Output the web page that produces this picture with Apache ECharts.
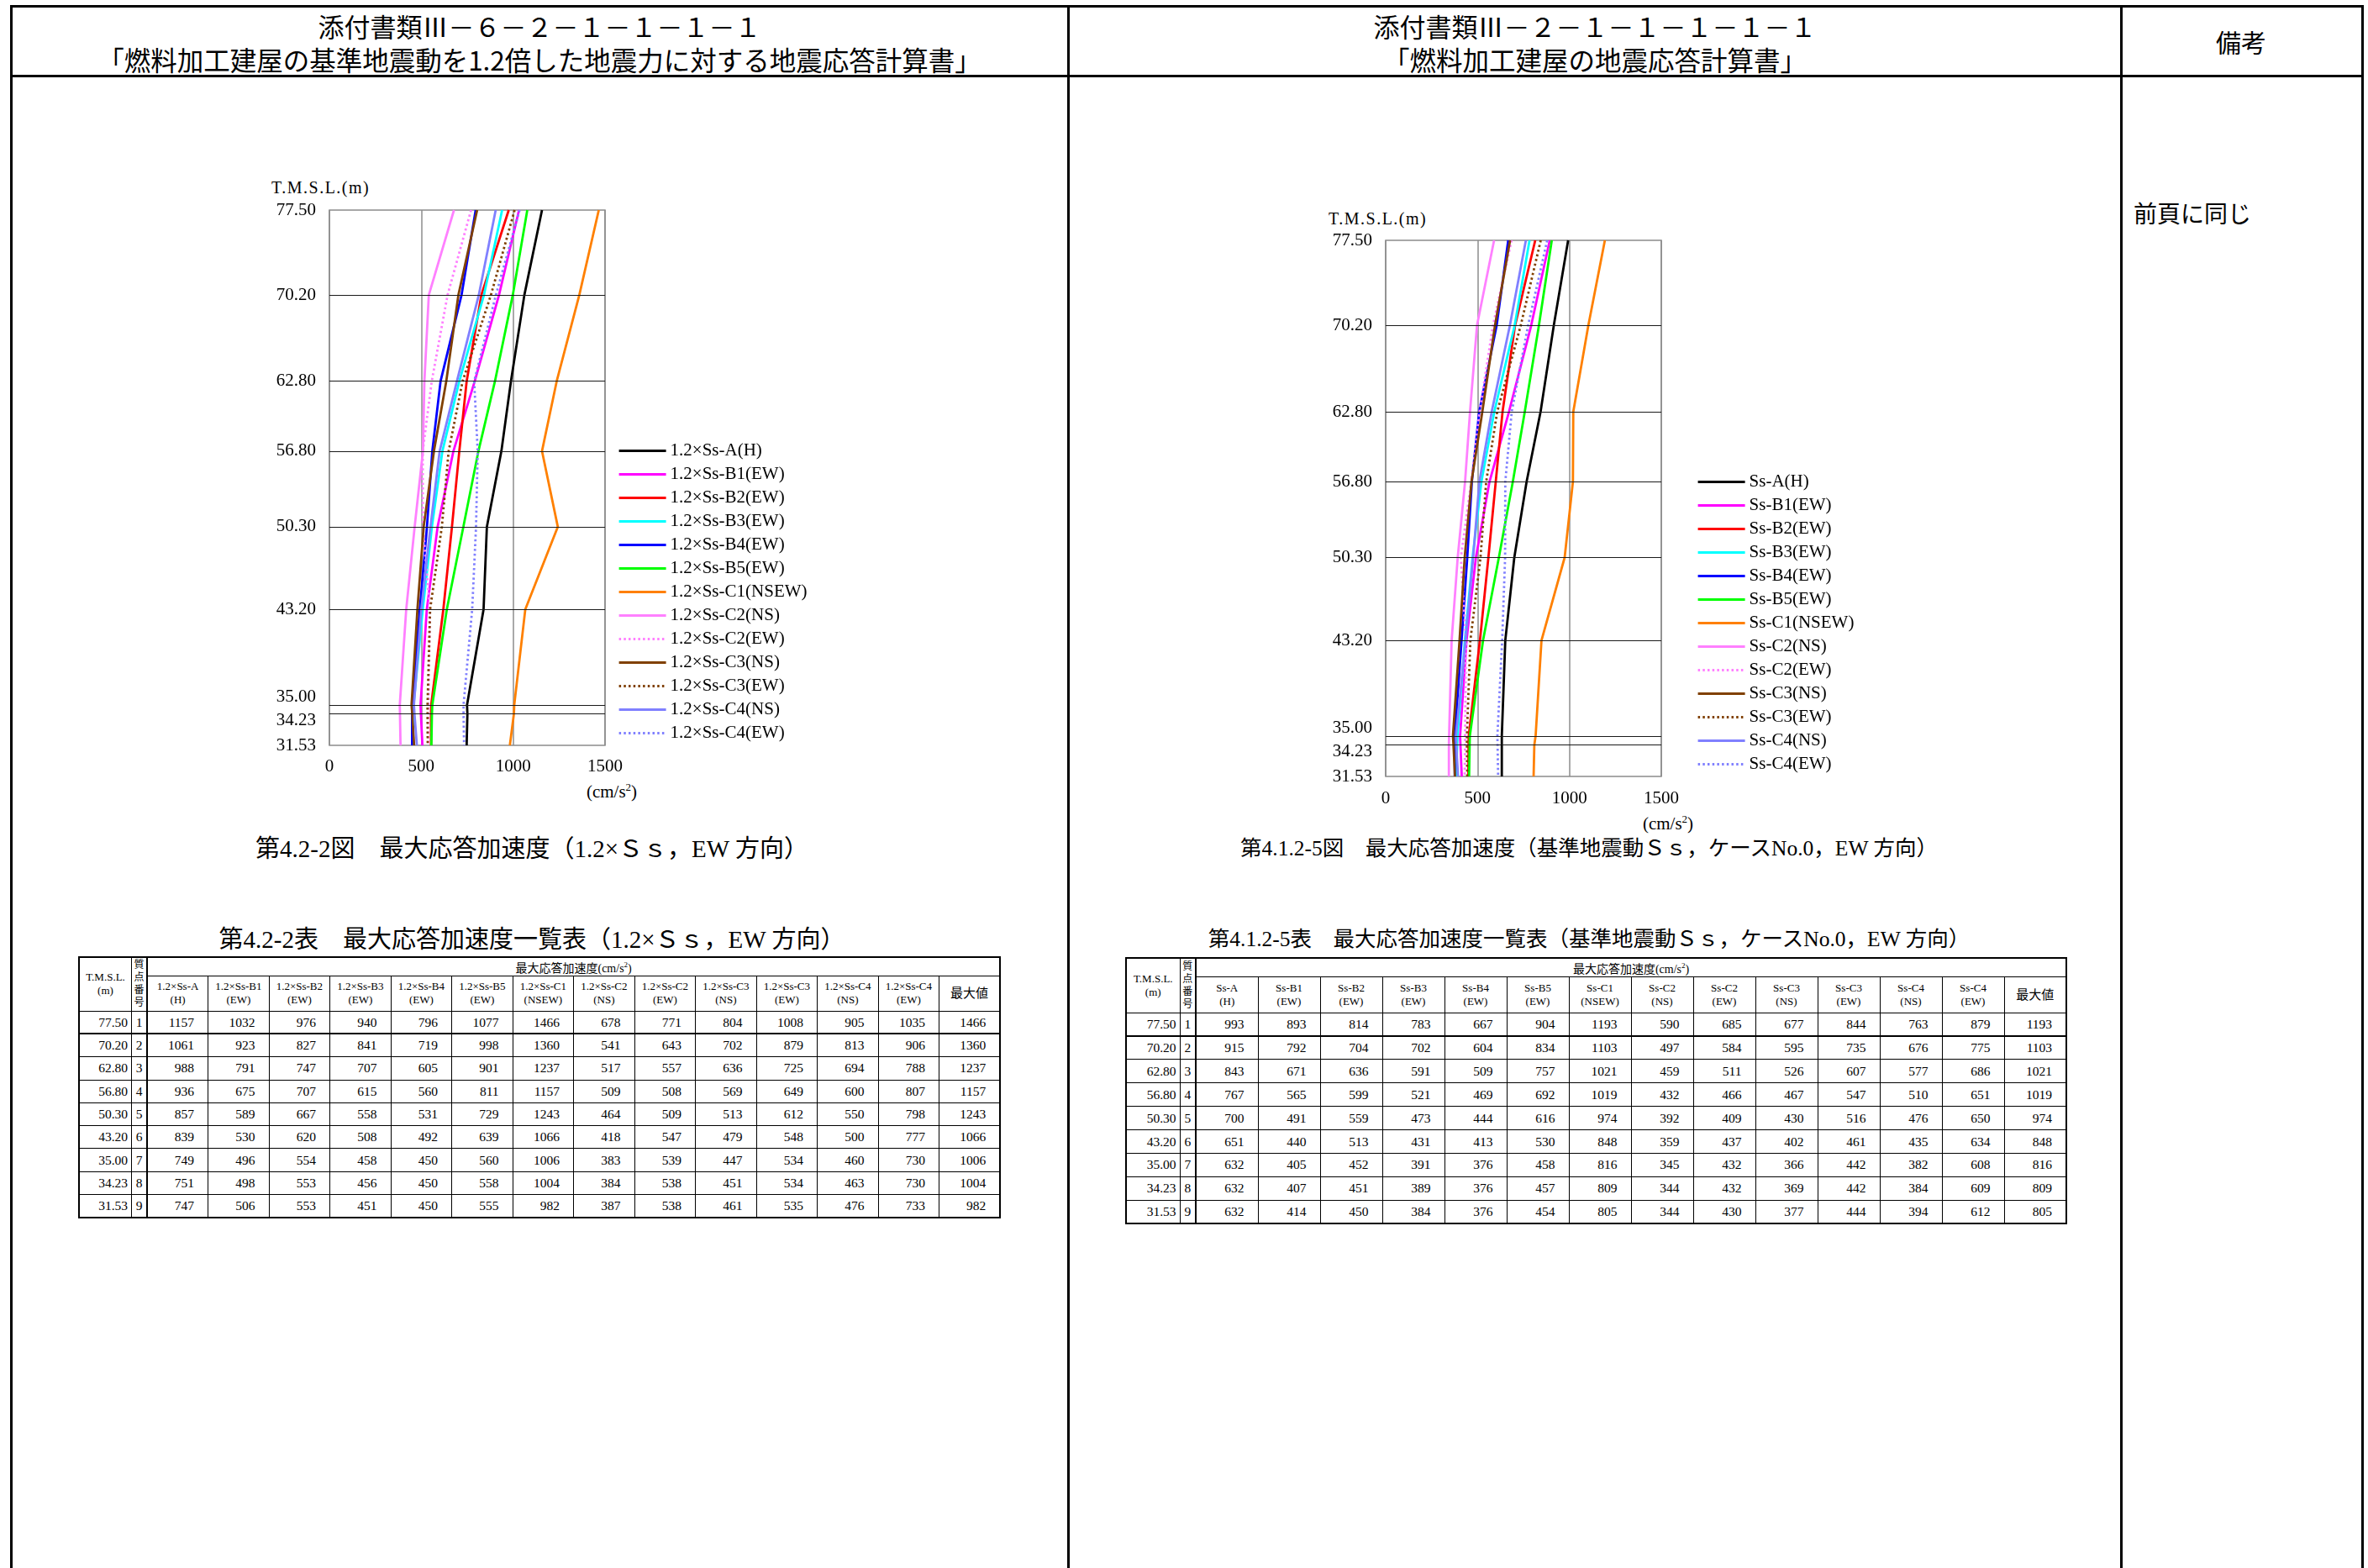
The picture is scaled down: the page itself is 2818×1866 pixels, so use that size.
<!DOCTYPE html>
<html>
<head>
<meta charset="utf-8">
<script src="https://cdn.jsdelivr.net/npm/echarts@6/dist/echarts.min.js"></script>
<style>
  html, body { margin:0; padding:0; background:#fff; }
  body { width:2818px; height:1866px; position:relative; overflow:hidden;
         font-family:"Liberation Serif","Noto Sans CJK JP",serif; color:#000; }
  .ln { position:absolute; background:#000; }
  .txt { position:absolute; white-space:nowrap; font-family:"Liberation Serif","Noto Sans CJK JP",serif; }
  .ctr { transform:translateX(-50%); text-align:center; }
  table.acc { position:absolute; border-collapse:collapse; table-layout:fixed; border:2px solid #000;
              font-family:"Liberation Serif","Noto Sans CJK JP",serif; }
  table.acc th, table.acc td { border:1px solid #000; padding:0; overflow:hidden; white-space:nowrap; }
  table.acc th { font-weight:normal; font-size:13px; line-height:16px; text-align:center; vertical-align:middle; }
  table.acc td { font-size:15.5px; }
  table.acc td.num { text-align:right; padding-right:16px; }
  table.acc td.el { text-align:right; padding-right:4px; border-right:1px solid #000; }
  table.acc td.no { text-align:center; border-right:2px solid #000; }
  table.acc th.no { border-right:2px solid #000; font-size:12px; line-height:15px; }
  table.acc tr.first td { border-bottom:2px solid #000; }
  #chart { position:absolute; left:0; top:0; width:2818px; height:1866px; }
</style>
</head>
<body>
<!-- page frame -->
<div class="ln" style="left:12px;top:6px;width:2801px;height:3px"></div>
<div class="ln" style="left:12px;top:89px;width:2801px;height:3px"></div>
<div class="ln" style="left:12px;top:6px;width:3px;height:1860px"></div>
<div class="ln" style="left:1270px;top:6px;width:3px;height:1860px"></div>
<div class="ln" style="left:2523px;top:6px;width:3px;height:1860px"></div>
<div class="ln" style="left:2810px;top:6px;width:3px;height:1860px"></div>

<!-- headers -->
<div class="txt ctr" style="left:642px;top:14px;font-size:31px;line-height:34px;font-family:'Noto Sans CJK JP'">添付書類Ⅲ－６－２－１－１－１－１</div>
<div class="txt ctr" style="left:642px;top:53px;font-size:31.5px;line-height:34px;font-family:'Noto Sans CJK JP'">「燃料加工建屋の基準地震動を1.2倍した地震力に対する地震応答計算書」</div>
<div class="txt ctr" style="left:1898px;top:14px;font-size:31px;line-height:34px;font-family:'Noto Sans CJK JP'">添付書類Ⅲ－２－１－１－１－１－１</div>
<div class="txt ctr" style="left:1898px;top:53px;font-size:31.5px;line-height:34px;font-family:'Noto Sans CJK JP'">「燃料加工建屋の地震応答計算書」</div>
<div class="txt ctr" style="left:2667px;top:32px;font-size:30px;line-height:34px;font-family:'Noto Sans CJK JP'">備考</div>
<div class="txt" style="left:2539px;top:238px;font-size:28px;line-height:30px;font-family:'Noto Sans CJK JP'">前頁に同じ</div>

<!-- chart texts -->
<div class="txt" style="left:323px;top:212px;font-size:20px;line-height:22px;letter-spacing:1.5px">T.M.S.L.(m)</div>
<div class="txt" style="left:1581px;top:249px;font-size:20px;line-height:22px;letter-spacing:1.5px">T.M.S.L.(m)</div>
<div class="txt ctr" style="left:728px;top:926px;font-size:21px;line-height:22px">(cm/s<sup style="font-size:13px">2</sup>)</div>
<div class="txt ctr" style="left:1985px;top:964px;font-size:21px;line-height:22px">(cm/s<sup style="font-size:13px">2</sup>)</div>

<!-- captions -->
<div class="txt ctr" style="left:633px;top:994px;font-size:29px;line-height:32px">第4.2-2図　最大応答加速度（1.2×Ｓｓ，EW 方向）</div>
<div class="txt ctr" style="left:1891px;top:995px;font-size:25.5px;line-height:30px">第4.1.2-5図　最大応答加速度（基準地震動Ｓｓ，ケースNo.0，EW 方向）</div>
<div class="txt ctr" style="left:633px;top:1102px;font-size:29px;line-height:32px">第4.2-2表　最大応答加速度一覧表（1.2×Ｓｓ，EW 方向）</div>
<div class="txt ctr" style="left:1891px;top:1103px;font-size:25.5px;line-height:30px">第4.1.2-5表　最大応答加速度一覧表（基準地震動Ｓｓ，ケースNo.0，EW 方向）</div>

<table class="acc" id="tblL"></table>
<table class="acc" id="tblR"></table>

<div id="chart"></div>

<script>
// ---------------- data ----------------
const ELEV = [77.50, 70.20, 62.80, 56.80, 50.30, 43.20, 35.00, 34.23, 31.53];
const NODE_NO = [1, 2, 3, 4, 5, 6, 7, 8, 9];
const X_TICKS = [0, 500, 1000, 1500];
const CASES = ['Ss-A', 'Ss-B1', 'Ss-B2', 'Ss-B3', 'Ss-B4', 'Ss-B5', 'Ss-C1', 'Ss-C2', 'Ss-C2', 'Ss-C3', 'Ss-C3', 'Ss-C4', 'Ss-C4'];
const DIRS = ['(H)', '(EW)', '(EW)', '(EW)', '(EW)', '(EW)', '(NSEW)', '(NS)', '(EW)', '(NS)', '(EW)', '(NS)', '(EW)'];
const PREFIX_L = '1.2×';
const PREFIX_R = '';

// 1.2 x Ss (left)
const L_A    = [1157, 1061, 988, 936, 857, 839, 749, 751, 747];
const L_B1   = [1032, 923, 791, 675, 589, 530, 496, 498, 506];
const L_B2   = [976, 827, 747, 707, 667, 620, 554, 553, 553];
const L_B3   = [940, 841, 707, 615, 558, 508, 458, 456, 451];
const L_B4   = [796, 719, 605, 560, 531, 492, 450, 450, 450];
const L_B5   = [1077, 998, 901, 811, 729, 639, 560, 558, 555];
const L_C1   = [1466, 1360, 1237, 1157, 1243, 1066, 1006, 1004, 982];
const L_C2NS = [678, 541, 517, 509, 464, 418, 383, 384, 387];
const L_C2EW = [771, 643, 557, 508, 509, 547, 539, 538, 538];
const L_C3NS = [804, 702, 636, 569, 513, 479, 447, 451, 461];
const L_C3EW = [1008, 879, 725, 649, 612, 548, 534, 534, 535];
const L_C4NS = [905, 813, 694, 600, 550, 500, 460, 463, 476];
const L_C4EW = [1035, 906, 788, 807, 798, 777, 730, 730, 733];
const L_MAX  = [1466, 1360, 1237, 1157, 1243, 1066, 1006, 1004, 982];

// Ss (right)
const R_A    = [993, 915, 843, 767, 700, 651, 632, 632, 632];
const R_B1   = [893, 792, 671, 565, 491, 440, 405, 407, 414];
const R_B2   = [814, 704, 636, 599, 559, 513, 452, 451, 450];
const R_B3   = [783, 702, 591, 521, 473, 431, 391, 389, 384];
const R_B4   = [667, 604, 509, 469, 444, 413, 376, 376, 376];
const R_B5   = [904, 834, 757, 692, 616, 530, 458, 457, 454];
const R_C1   = [1193, 1103, 1021, 1019, 974, 848, 816, 809, 805];
const R_C2NS = [590, 497, 459, 432, 392, 359, 345, 344, 344];
const R_C2EW = [685, 584, 511, 466, 409, 437, 432, 432, 430];
const R_C3NS = [677, 595, 526, 467, 430, 402, 366, 369, 377];
const R_C3EW = [844, 735, 607, 547, 516, 461, 442, 442, 444];
const R_C4NS = [763, 676, 577, 510, 476, 435, 382, 384, 394];
const R_C4EW = [879, 775, 686, 651, 650, 634, 608, 609, 612];
const R_MAX  = [1193, 1103, 1021, 1019, 974, 848, 816, 809, 805];

// ---------------- styles ----------------
const COLORS = ['#000000', '#FF00FF', '#FF0000', '#00FFFF', '#0000FF', '#00FF00', '#FF8000',
                '#FF80FF', '#FF80FF', '#804000', '#804000', '#8080FF', '#8080FF'];
const DOTTED = [false, false, false, false, false, false, false, false, true, false, true, false, true];

const L_SETS = [L_A, L_B1, L_B2, L_B3, L_B4, L_B5, L_C1, L_C2NS, L_C2EW, L_C3NS, L_C3EW, L_C4NS, L_C4EW];
const R_SETS = [R_A, R_B1, R_B2, R_B3, R_B4, R_B5, R_C1, R_C2NS, R_C2EW, R_C3NS, R_C3EW, R_C4NS, R_C4EW];

const FONT = '"Liberation Serif", "Noto Sans CJK JP", serif';

// ---------------- tables ----------------
function buildTable(id, prefix, sets, maxArr, left, top, widths, h1, h2, hr) {
  const t = document.getElementById(id);
  t.style.left = left + 'px';
  t.style.top = top + 'px';
  const total = widths.reduce((a, b) => a + b, 0);
  t.style.width = total + 'px';
  let html = '<colgroup>' + widths.map(w => '<col style="width:' + w + 'px">').join('') + '</colgroup>';
  html += '<tr style="height:' + h1 + 'px"><th rowspan="2">T.M.S.L.<br>(m)</th><th rowspan="2" class="no">質<br>点<br>番<br>号</th>' +
          '<th colspan="' + (sets.length + 1) + '" style="font-size:14px">最大応答加速度(cm/s<sup style="font-size:9px">2</sup>)</th></tr>';
  html += '<tr style="height:' + h2 + 'px">';
  sets.forEach((s, i) => { html += '<th>' + prefix + CASES[i] + '<br>' + DIRS[i] + '</th>'; });
  html += '<th style="font-size:15px">最大値</th></tr>';
  ELEV.forEach((e, r) => {
    html += '<tr' + (r === 0 ? ' class="first"' : '') + ' style="height:' + hr + 'px">';
    html += '<td class="el">' + e.toFixed(2) + '</td><td class="no">' + NODE_NO[r] + '</td>';
    sets.forEach(s => { html += '<td class="num">' + s[r] + '</td>'; });
    html += '<td class="num">' + maxArr[r] + '</td></tr>';
  });
  t.innerHTML = html;
}
const wL = [62.5, 18.6].concat(new Array(14).fill(72.5));
const wR = [64, 19].concat(new Array(14).fill(74));
buildTable('tblL', PREFIX_L, L_SETS, L_MAX, 93, 1138, wL, 22, 42, 27.3);
buildTable('tblR', PREFIX_R, R_SETS, R_MAX, 1339, 1139, wR, 22, 43, 27.9);

// ---------------- chart ----------------
const INNER_ELEV = ELEV.slice(1, ELEV.length - 1);

function makeSeries(prefix, sets, ai) {
  return sets.map((vals, i) => {
    const s = {
      name: prefix + CASES[i] + DIRS[i],
      type: 'line',
      xAxisIndex: ai, yAxisIndex: ai,
      data: vals.map((v, k) => [v, ELEV[k]]),
      symbol: 'none', showSymbol: false, silent: true,
      lineStyle: { color: COLORS[i], width: 2.8, type: DOTTED[i] ? [2.5, 3.2] : 'solid' },
      itemStyle: { color: COLORS[i] },
      emphasis: { disabled: true },
      z: 3
    };
    if (i === 0) {
      s.markLine = {
        silent: true, symbol: 'none', label: { show: false }, animation: false,
        lineStyle: { color: '#1a1a1a', width: 1.2, type: 'solid' },
        emphasis: { disabled: true },
        data: INNER_ELEV.map(e => ({ yAxis: e }))
      };
    }
    return s;
  });
}

function yFmt(v) {
  const s = v.toFixed(2);
  if (Math.abs(v - 35.00) < 1e-6) return '{up|' + s + '}';
  if (Math.abs(v - 34.23) < 1e-6) return '{dn|' + s + '}';
  return s;
}

function xAxisCfg(gi, margin) {
  return {
    gridIndex: gi, type: 'value', min: X_TICKS[0], max: X_TICKS[X_TICKS.length - 1],
    interval: X_TICKS[1] - X_TICKS[0],
    axisLine: { show: false }, axisTick: { show: false },
    splitLine: { show: true, lineStyle: { color: '#8c8c8c', width: 1.5 } },
    axisLabel: { fontSize: 21, color: '#000', fontFamily: FONT, margin: margin, formatter: v => String(v) }
  };
}
function yAxisCfg(gi) {
  return {
    gridIndex: gi, type: 'value', min: ELEV[ELEV.length - 1], max: ELEV[0],
    axisLine: { show: false },
    axisTick: { show: false, customValues: ELEV },
    splitLine: { show: false },
    axisLabel: {
      customValues: ELEV, formatter: yFmt, fontSize: 21, color: '#000', fontFamily: FONT, margin: 16,
      rich: {
        up: { fontSize: 21, fontFamily: FONT, color: '#000', padding: [0, 0, 18, 0] },
        dn: { fontSize: 21, fontFamily: FONT, color: '#000', padding: [15, 0, 0, 0] }
      }
    }
  };
}
function legendCfg(prefix, left, top) {
  return {
    orient: 'vertical', left: left, top: top, itemWidth: 56, itemHeight: 14, itemGap: 7,
    selectedMode: false, padding: 0,
    itemStyle: { opacity: 0, borderWidth: 0 },
    lineStyle: { opacity: 1, width: 3.2 },
    textStyle: { fontSize: 21, lineHeight: 21, color: '#000', fontFamily: FONT },
    data: CASES.map((c, i) => prefix + c + DIRS[i])
  };
}

const chart = echarts.init(document.getElementById('chart'), null, { renderer: 'canvas' });
chart.setOption({
  animation: false,
  backgroundColor: 'transparent',
  grid: [
    { left: 392, top: 250, width: 328, height: 637, show: true, borderColor: '#8c8c8c', borderWidth: 1.5, backgroundColor: 'transparent' },
    { left: 1649, top: 286, width: 328, height: 638, show: true, borderColor: '#8c8c8c', borderWidth: 1.5, backgroundColor: 'transparent' }
  ],
  xAxis: [xAxisCfg(0, 15), xAxisCfg(1, 16)],
  yAxis: [yAxisCfg(0), yAxisCfg(1)],
  legend: [legendCfg(PREFIX_L, 735, 526), legendCfg(PREFIX_R, 2019, 563)],
  series: makeSeries(PREFIX_L, L_SETS, 0).concat(makeSeries(PREFIX_R, R_SETS, 1))
});
</script>
</body>
</html>
